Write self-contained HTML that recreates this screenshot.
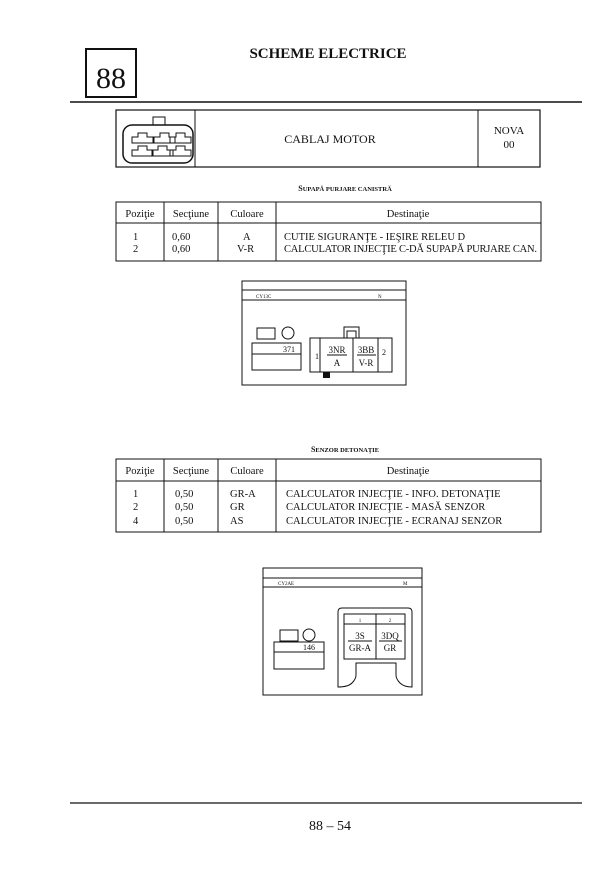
<!DOCTYPE html>
<html><head><meta charset="utf-8"><style>
html,body{margin:0;padding:0;background:#fff;}
svg{display:block;}
text{font-family:"Liberation Serif",serif;fill:#111;}
</style></head><body>
<svg width="605" height="869" viewBox="0 0 605 869" xmlns="http://www.w3.org/2000/svg">
<rect width="605" height="869" fill="#fff"/>
<g stroke="#111" fill="none">
<!-- 88 box -->
<rect x="86" y="49" width="50" height="48" stroke-width="2"/>
<line x1="70" y1="102" x2="582" y2="102" stroke-width="1.5"/>
<!-- header box -->
<rect x="116" y="110" width="424" height="57" stroke-width="1.2"/>
<line x1="195" y1="110" x2="195" y2="167"/>
<line x1="478" y1="110" x2="478" y2="167"/>
<rect x="123" y="125" width="70" height="38" rx="9" stroke-width="1.5"/>
<rect x="153" y="117" width="12" height="8"/>
<path d="M132 137h6v-4h9v4h6v6h-21z M154 137h6v-4h9v4h6v6h-21z M170 137h6v-4h9v4h6v6h-21z" stroke-width="1"/>
<path d="M132 150h6v-4h9v4h6v6h-21z M152 150h6v-4h9v4h6v6h-21z M170 150h6v-4h9v4h6v6h-21z" stroke-width="1"/>
<!-- table1 -->
<rect x="116" y="202" width="425" height="59"/>
<line x1="116" y1="223" x2="541" y2="223"/>
<line x1="164" y1="202" x2="164" y2="261"/>
<line x1="218" y1="202" x2="218" y2="261"/>
<line x1="276" y1="202" x2="276" y2="261"/>
<!-- connector 1 -->
<rect x="242" y="281" width="164" height="104"/>
<line x1="242" y1="290" x2="406" y2="290"/>
<line x1="242" y1="300" x2="406" y2="300"/>
<rect x="257" y="328" width="18" height="11"/>
<circle cx="288" cy="333" r="6"/>
<rect x="252" y="343" width="49" height="27"/>
<line x1="252" y1="354" x2="301" y2="354"/>
<rect x="310" y="338" width="82" height="34"/>
<line x1="320" y1="338" x2="320" y2="372"/>
<line x1="353" y1="338" x2="353" y2="372"/>
<line x1="378" y1="338" x2="378" y2="372"/>
<rect x="344" y="327" width="15" height="11"/>
<rect x="347" y="331" width="9" height="7"/>
<line x1="327" y1="355" x2="347" y2="355"/>
<line x1="357" y1="355" x2="376" y2="355"/>
<!-- table2 -->
<rect x="116" y="459" width="425" height="73"/>
<line x1="116" y1="481" x2="541" y2="481"/>
<line x1="164" y1="459" x2="164" y2="532"/>
<line x1="218" y1="459" x2="218" y2="532"/>
<line x1="276" y1="459" x2="276" y2="532"/>
<!-- connector 2 -->
<rect x="263" y="568" width="159" height="127"/>
<line x1="263" y1="578" x2="422" y2="578"/>
<line x1="263" y1="587" x2="422" y2="587"/>
<rect x="280" y="630" width="18" height="11"/>
<circle cx="309" cy="635" r="6"/>
<rect x="274" y="642" width="50" height="27"/>
<line x1="274" y1="652" x2="324" y2="652"/>
<path d="M338 687V612q0-4 4-4h66q4 0 4 4v75q-8 0-12-4t-4-8v-12h-40v12q0 4-4 8t-14 4z"/>
<rect x="344" y="614" width="61" height="45"/>
<line x1="376" y1="614" x2="376" y2="659"/>
<line x1="344" y1="624" x2="405" y2="624"/>
<line x1="348" y1="641" x2="372" y2="641"/>
<line x1="379" y1="641" x2="402" y2="641"/>
<line x1="70" y1="803" x2="582" y2="803" stroke-width="1.2"/>
</g>
<text x="111" y="88" font-size="30" text-anchor="middle">88</text>
<text x="328" y="58" font-size="15" font-weight="bold" text-anchor="middle">SCHEME ELECTRICE</text>
<text x="330" y="143" font-size="12" text-anchor="middle">CABLAJ MOTOR</text>
<text x="509" y="134" font-size="11" text-anchor="middle">NOVA</text>
<text x="509" y="148" font-size="11" text-anchor="middle">00</text>
<text x="345" y="191" font-size="8" text-anchor="middle" font-weight="bold">S<tspan font-size="6.5">UPAPĂ PURJARE CANISTRĂ</tspan></text>
<g font-size="10.5">
<text x="140" y="217" text-anchor="middle">Poziţie</text>
<text x="191" y="217" text-anchor="middle">Secţiune</text>
<text x="247" y="217" text-anchor="middle">Culoare</text>
<text x="408" y="217" text-anchor="middle">Destinaţie</text>
<text x="133" y="240">1</text><text x="172" y="240">0,60</text><text x="243" y="240">A</text><text x="284" y="240">CUTIE SIGURANŢE - IEŞIRE RELEU D</text>
<text x="133" y="252">2</text><text x="172" y="252">0,60</text><text x="237" y="252">V-R</text><text x="284" y="252" textLength="253">CALCULATOR INJECŢIE C-DĂ SUPAPĂ PURJARE CAN.</text>
</g>
<g font-size="8">
<text x="256" y="298" font-size="5">CY13C</text>
<text x="378" y="298" font-size="5">N</text>
<text x="283" y="352">371</text>
<text x="315" y="359">1</text>
<text x="337" y="353" text-anchor="middle" font-size="9">3NR</text>
<text x="337" y="366" text-anchor="middle" font-size="9">A</text>
<text x="366" y="353" text-anchor="middle" font-size="9">3BB</text>
<text x="366" y="366" text-anchor="middle" font-size="9">V-R</text>
<text x="382" y="355">2</text>
</g>
<rect x="323" y="372" width="7" height="6" fill="#111"/>
<text x="345" y="452" font-size="8" text-anchor="middle" font-weight="bold">S<tspan font-size="6.5">ENZOR DETONAŢIE</tspan></text>
<g font-size="10.5">
<text x="140" y="474" text-anchor="middle">Poziţie</text>
<text x="191" y="474" text-anchor="middle">Secţiune</text>
<text x="247" y="474" text-anchor="middle">Culoare</text>
<text x="408" y="474" text-anchor="middle">Destinaţie</text>
<text x="133" y="497">1</text><text x="175" y="497">0,50</text><text x="230" y="497">GR-A</text><text x="286" y="497">CALCULATOR INJECŢIE - INFO. DETONAŢIE</text>
<text x="133" y="510">2</text><text x="175" y="510">0,50</text><text x="230" y="510">GR</text><text x="286" y="510">CALCULATOR INJECŢIE - MASĂ SENZOR</text>
<text x="133" y="524">4</text><text x="175" y="524">0,50</text><text x="230" y="524">AS</text><text x="286" y="524">CALCULATOR INJECŢIE - ECRANAJ SENZOR</text>
</g>
<g font-size="9">
<text x="278" y="585" font-size="5">CY2AE</text>
<text x="403" y="585" font-size="5">M</text>
<text x="303" y="650" font-size="8">146</text>
<text x="360" y="622" font-size="5" text-anchor="middle">1</text>
<text x="390" y="622" font-size="5" text-anchor="middle">2</text>
<text x="360" y="639" text-anchor="middle">3S</text>
<text x="360" y="651" text-anchor="middle">GR-A</text>
<text x="390" y="639" text-anchor="middle">3DQ</text>
<text x="390" y="651" text-anchor="middle">GR</text>
</g>
<text x="330" y="830" font-size="14" text-anchor="middle">88 – 54</text>
</svg>
</body></html>
